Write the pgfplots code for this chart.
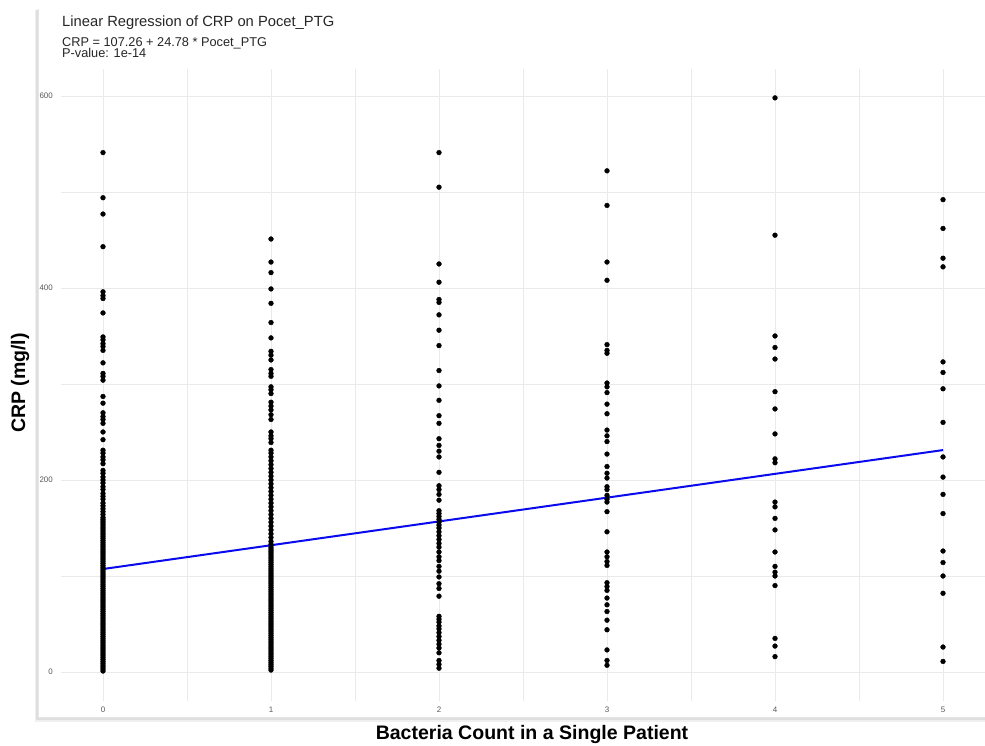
\documentclass[border=0pt]{standalone}
\usepackage{fontspec}
\setmainfont{Liberation Sans}
\usepackage{pgfplots}
\pgfplotsset{compat=1.18}
\definecolor{gridc}{HTML}{EAEAEA}
\definecolor{tickc}{HTML}{5A5A5A}
\definecolor{regblue}{HTML}{0A0AF0}
\begin{document}
\begin{tikzpicture}[x=1bp,y=1bp]
\path[use as bounding box] (-61,-45) rectangle (924,701);
% card with soft shadow
\fill[black!6] (-26,-21) rectangle (926,691);
\fill[black!13] (-24.5,-19) rectangle (925,691);
\fill[white] (-23,-16.5) rectangle (924,692);
\draw[black!10, line width=0.6bp] (-23,692) -- (-23,-16.5) -- (924,-16.5);
\begin{axis}[
  at={(0,0)}, anchor=south west,
  scale only axis, width=924bp, height=632bp,
  xmin=-0.25, xmax=5.25, ymin=-30.2, ymax=628.1,
  axis line style={draw=none},
  major tick length=0pt, minor tick length=0pt,
  xtick={0,1,2,3,4,5}, minor xtick={0.5,1.5,2.5,3.5,4.5},
  ytick={0,200,400,600}, minor ytick={100,300,500},
  grid=both,
  major grid style={gridc, line width=0.9bp},
  minor grid style={gridc, line width=0.6bp},
  /pgf/number format/assume math mode=true,
  tick label style={font=\fontsize{8}{9}\selectfont, text=tickc},
  yticklabel style={anchor=east, inner sep=0pt, xshift=-8bp},
  xticklabel style={anchor=north, inner sep=0pt, yshift=-6bp},
  clip=false,
]
\addplot[only marks, mark=*, mark size=2.4bp, black] coordinates {
(0,541) (0,494) (0,477) (0,443) (0,396) (0,392) (0,389) (0,374) (0,349) (0,346)
(0,342) (0,339) (0,335) (0,322) (0,311) (0,308) (0,304) (0,287) (0,280) (0,270)
(0,266) (0,263) (0,259) (0,250) (0,242) (0,231) (0,228) (0,224) (0,221) (0,217)
(0,210) (0,207) (0,203) (0,200) (0,197) (0,193) (0,190) (0,186) (0,183) (0,180)
(0,176) (0,173) (0,170) (0,167) (0,164) (0,161)
(0,159) (0,157) (0,155) (0,153) (0,151) (0,149) (0,147) (0,145) (0,143) (0,141)
(0,139) (0,137) (0,135) (0,133) (0,131) (0,129) (0,127) (0,125) (0,123) (0,121)
(0,119) (0,117) (0,115) (0,113) (0,111) (0,109) (0,107) (0,105) (0,103) (0,101)
(0,99) (0,97) (0,95) (0,93) (0,91) (0,89) (0,87) (0,85) (0,83) (0,81)
(0,79) (0,77) (0,75) (0,73) (0,71) (0,69) (0,67) (0,65) (0,63) (0,61)
(0,59) (0,57) (0,55) (0,53) (0,51) (0,49) (0,47) (0,45) (0,43) (0,41)
(0,39) (0,37) (0,35) (0,33) (0,31) (0,29) (0,27) (0,25) (0,23) (0,21)
(0,19) (0,17) (0,15) (0,13) (0,11) (0,9) (0,7) (0,5) (0,3) (0,1)
};
\addplot[only marks, mark=*, mark size=2.4bp, black] coordinates {
(1,451) (1,427) (1,416) (1,399) (1,384) (1,364) (1,348) (1,334) (1,330) (1,325)
(1,315) (1,311) (1,308) (1,297) (1,294) (1,290) (1,281) (1,277) (1,273) (1,268)
(1,263) (1,250) (1,246) (1,243) (1,239) (1,231) (1,228) (1,224) (1,220) (1,216)
(1,212) (1,208) (1,204) (1,200) (1,196) (1,192) (1,188) (1,184) (1,180) (1,176)
(1,172) (1,168) (1,164) (1,160) (1,156) (1,152) (1,148) (1,144) (1,140) (1,136)
(1,133) (1,130) (1,128) (1,126) (1,124) (1,122) (1,120) (1,118) (1,116) (1,114)
(1,112) (1,110) (1,108) (1,106) (1,104) (1,102) (1,100) (1,98) (1,96) (1,94)
(1,92) (1,90) (1,88) (1,86) (1,84) (1,82) (1,80) (1,78) (1,76) (1,74)
(1,72) (1,70) (1,68) (1,66) (1,64) (1,62) (1,60) (1,58) (1,56) (1,54)
(1,52) (1,50) (1,48) (1,46) (1,44) (1,42) (1,40) (1,38) (1,36) (1,34)
(1,32) (1,30) (1,28) (1,26) (1,24) (1,22) (1,20) (1,18) (1,16) (1,14)
(1,12) (1,10) (1,8) (1,6) (1,4) (1,2)
};
\addplot[only marks, mark=*, mark size=2.4bp, black] coordinates {
(2,541) (2,505) (2,425) (2,406) (2,388) (2,385) (2,372) (2,356) (2,340) (2,314)
(2,298) (2,283) (2,267) (2,259) (2,243) (2,236) (2,230) (2,224) (2,208) (2,194)
(2,190) (2,185) (2,179) (2,168) (2,165) (2,162) (2,159) (2,156) (2,153) (2,150)
(2,146) (2,142) (2,138) (2,134) (2,130) (2,125) (2,120) (2,116) (2,110) (2,105)
(2,99) (2,92) (2,87) (2,79) (2,58) (2,55) (2,52) (2,48) (2,45) (2,41)
(2,37) (2,33) (2,29) (2,25) (2,20) (2,12) (2,8) (2,4)
};
\addplot[only marks, mark=*, mark size=2.4bp, black] coordinates {
(3,522) (3,486) (3,427) (3,408) (3,341) (3,335) (3,332) (3,301) (3,297) (3,291)
(3,279) (3,269) (3,252) (3,246) (3,240) (3,227) (3,214) (3,207) (3,202) (3,193)
(3,190) (3,184) (3,180) (3,177) (3,167) (3,146) (3,125) (3,120) (3,115) (3,111)
(3,93) (3,89) (3,85) (3,77) (3,70) (3,63) (3,54) (3,44) (3,23) (3,12) (3,7)
};
\addplot[only marks, mark=*, mark size=2.4bp, black] coordinates {
(4,598) (4,455) (4,350) (4,338) (4,326) (4,292) (4,274) (4,248) (4,222) (4,218)
(4,177) (4,172) (4,160) (4,148) (4,125) (4,110) (4,104) (4,100) (4,90) (4,35)
(4,27) (4,16)
};
\addplot[only marks, mark=*, mark size=2.4bp, black] coordinates {
(5,492) (5,462) (5,431) (5,422) (5,323) (5,312) (5,295) (5,260) (5,224) (5,203)
(5,185) (5,165) (5,126) (5,114) (5,100) (5,82) (5,26) (5,11)
};
\addplot[regblue, line width=2bp, no marks] coordinates {(0,107.26) (5,231.16)};
\end{axis}
% titles
\node[anchor=base west, inner sep=0pt, text=black!85, font=\fontsize{14.8}{16}\selectfont] at (1,674) {Linear Regression of CRP on Pocet\_PTG};
\node[anchor=base west, inner sep=0pt, text=black!85, font=\fontsize{12.8}{14}\selectfont] at (1,654) {CRP = 107.26 + 24.78 * Pocet\_PTG};
\node[anchor=base west, inner sep=0pt, text=black!85, font=\fontsize{12.8}{14}\selectfont] at (1,643) {P-value: 1e-14};
% axis labels
\node[inner sep=0pt, font=\bfseries\fontsize{19.6}{22}\selectfont] at (471,-33) {Bacteria Count in a Single Patient};
\node[inner sep=0pt, rotate=90, font=\bfseries\fontsize{19.6}{22}\selectfont] at (-41,318) {CRP (mg/l)};
\end{tikzpicture}
\end{document}
